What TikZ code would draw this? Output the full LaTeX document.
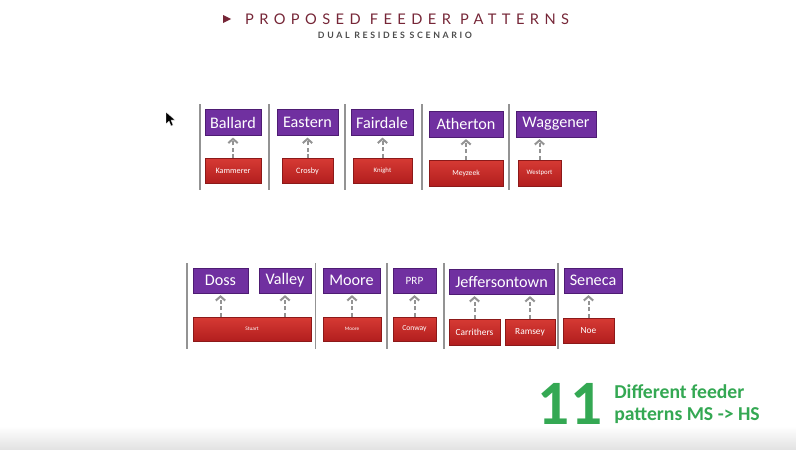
\documentclass[tikz,border=0pt]{standalone}
\usepackage{fontspec}
\setmainfont{Carlito}
\newfontfamily\titlefont[LetterSpace=37]{Lato}
\newfontfamily\subfont[LetterSpace=30]{Lato}
\usetikzlibrary{positioning,arrows.meta,shadows}
\definecolor{hspurple}{RGB}{112,48,160}
\definecolor{hsborder}{RGB}{78,28,115}
\definecolor{mstop}{RGB}{214,58,52}
\definecolor{msbottom}{RGB}{178,30,30}
\definecolor{msborder}{RGB}{140,25,25}
\definecolor{maroon}{RGB}{118,38,55}
\definecolor{slidegreen}{RGB}{52,168,83}
\tikzset{%
    wh/.style args={#1 by #2}{minimum width=#1*0.03cm,minimum height=#2*0.03cm}
}

\begin{document}
\begin{tikzpicture}[x=0.03cm,y=-0.03cm,
  hs node/.style={draw=hsborder,fill=hspurple,text=white,inner sep=0pt,line width=0.6pt,
    font=\fontsize{13.8}{15}\selectfont,
    drop shadow={opacity=0.25,shadow xshift=0.8pt,shadow yshift=-0.8pt}},
  ms node/.style={draw=msborder,top color=mstop,bottom color=msbottom,text=white,
    inner sep=0pt,line width=0.6pt,font=\fontsize{6.5}{7}\selectfont,
    drop shadow={opacity=0.25,shadow xshift=0.8pt,shadow yshift=-0.8pt}},
  feed/.style={draw=gray!85,line width=1.7pt,dash pattern=on 3.5pt off 2pt,
    -{Straight Barb[length=3.5pt,width=8pt]},shorten >=1.5pt},
  sep/.style={draw=gray!85,line width=1.4pt}]

  \fill[white] (0,0) rectangle (796,449);
  \useasboundingbox (0,0) rectangle (796,449);
  \shade[top color=white,bottom color=gray!22] (0,426) rectangle (796,449);

  \fill[maroon] (223,15) -- (231,19) -- (223,23) -- cycle;
  \node[maroon,font=\titlefont\fontsize{12.5}{14}\selectfont] (title) at (407,19) {PROPOSED FEEDER PATTERNS};
  \node[black!70,font=\subfont\bfseries\fontsize{7.5}{8}\selectfont] (subtitle) at (395,35) {DUAL RESIDES SCENARIO};

  \filldraw[black,draw=white,line width=0.3pt] (166,112) -- (166,124) -- (169,121) -- (171,126)
    -- (173,125) -- (171,120) -- (175,120) -- cycle;

  \foreach \x in {200,269,345,422,509} \draw[sep] (\x,104) -- (\x,190);
  \foreach \x in {187,315.5,387,444,558} \draw[sep] (\x,263) -- (\x,349);

  \node[hs node,wh=56 by 26] (ballard) at (233,122.5) {Ballard};
  \node[hs node,wh=61 by 26] (eastern) at (307.5,122.5) {Eastern};
  \node[hs node,wh=62 by 26] (fairdale) at (382,122.5) {Fairdale};
  \node[hs node,wh=74 by 26] (atherton) at (466,124) {Atherton};
  \node[hs node,wh=80 by 26] (waggener) at (556,124) {Waggener};

  \node[ms node,wh=56 by 25,font=\fontsize{7}{8}\selectfont] (kammerer) at (233,171) {Kammerer};
  \node[ms node,wh=51 by 25,font=\fontsize{7}{8}\selectfont] (crosby) at (307.5,171) {Crosby};
  \node[ms node,wh=59 by 25,font=\fontsize{5.8}{7}\selectfont] (knight) at (382.5,170.5) {Knight};
  \node[ms node,wh=74 by 26] (meyzeek) at (466,173) {Meyzeek};
  \node[ms node,wh=43 by 26,font=\fontsize{5.8}{7}\selectfont] (westport) at (539.5,173) {Westport};

  \node[hs node,wh=55 by 25] (doss) at (220.5,280.5) {Doss};
  \node[hs node,wh=52 by 25] (valley) at (285,280.5) {Valley};
  \node[hs node,wh=57 by 25] (moore) at (351.5,280.5) {Moore};
  \node[hs node,wh=43 by 25,font=\fontsize{9.5}{10}\selectfont] (prp) at (414.5,280.5) {PRP};
  \node[hs node,wh=105 by 25] (jtown) at (501.5,281.5) {Jeffersontown};
  \node[hs node,wh=58 by 25] (seneca) at (593,280.5) {Seneca};

  \node[ms node,wh=118 by 24,font=\fontsize{4.6}{6}\selectfont] (stuart) at (252,329) {Stuart};
  \node[ms node,wh=58 by 24,font=\fontsize{4.4}{6}\selectfont] (mooreMS) at (352,329) {Moore};
  \node[ms node,wh=43 by 24] (conway) at (414.5,329) {Conway};
  \node[ms node,wh=51 by 26,font=\fontsize{8}{9}\selectfont] (carrithers) at (474.5,332) {Carrithers};
  \node[ms node,wh=50 by 26,font=\fontsize{8}{9}\selectfont] (ramsey) at (530,332) {Ramsey};
  \node[ms node,wh=51 by 25,font=\fontsize{8}{9}\selectfont] (noe) at (588.5,330.5) {Noe};

\path
  (kammerer) edge[feed] (kammerer |- ballard.south)
  (crosby) edge[feed] (crosby |- eastern.south)
  (knight) edge[feed] (knight |- fairdale.south)
  (meyzeek) edge[feed] (meyzeek |- atherton.south)
  (westport) edge[feed] (westport |- waggener.south)
  (doss |- stuart.north) edge[feed] (doss.south)
  (valley |- stuart.north) edge[feed] (valley.south)
  (mooreMS) edge[feed] (mooreMS |- moore.south)
  (conway) edge[feed] (conway |- prp.south)
  (carrithers) edge[feed] (carrithers |- jtown.south)
  (ramsey) edge[feed] (ramsey |- jtown.south)
  (noe) edge[feed] (noe |- seneca.south);

  \node[slidegreen,font=\bfseries\fontsize{54}{54}\selectfont,inner sep=0pt] (count) at (570,404) {11};
  \node[slidegreen,font=\bfseries\fontsize{16.8}{18.5}\selectfont,align=left,inner sep=0pt,
    right=10pt of count] (caption) {Different feeder\\patterns MS -> HS};
\end{tikzpicture}
\end{document}
